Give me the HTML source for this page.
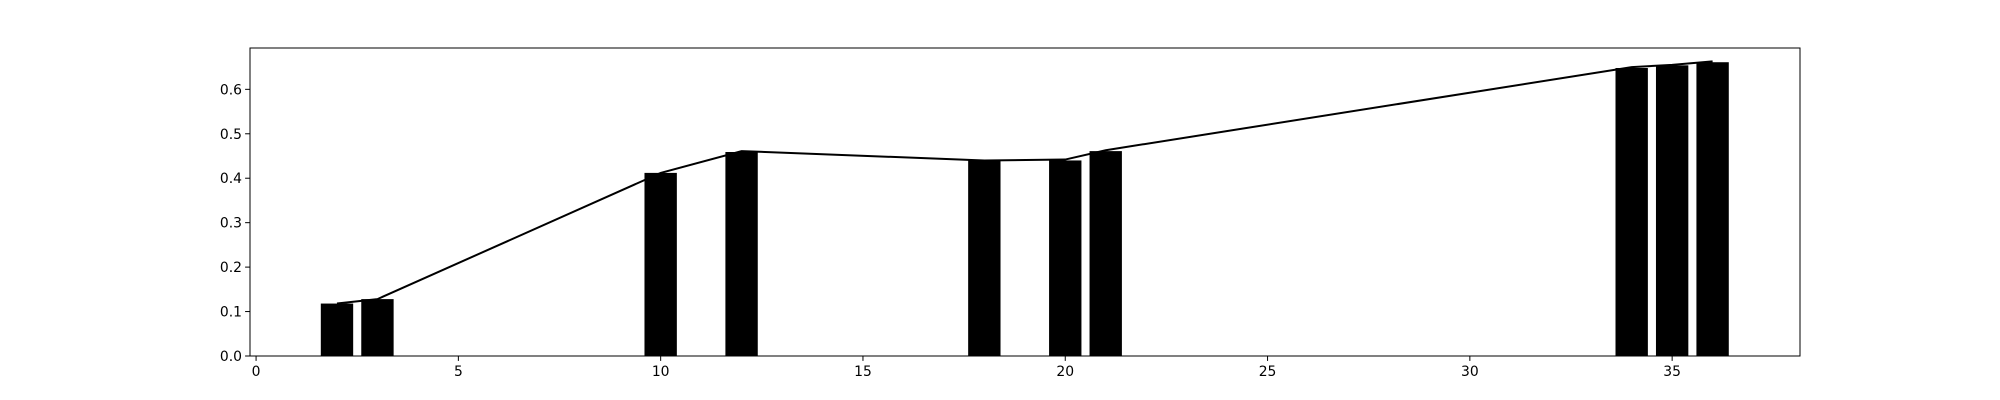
<!DOCTYPE html>
<html><head><meta charset="utf-8"><style>
html,body{margin:0;padding:0;background:#fff;}
svg{display:block;}
text{font-family:"DejaVu Sans","Liberation Sans",sans-serif;font-size:13.9px;fill:#000;}
</style></head><body>
<svg id="chart" width="2000" height="400" viewBox="0 0 2000 400" xmlns="http://www.w3.org/2000/svg">
<g id="bars"></g>
<g id="line"></g>
<g id="xaxis"></g>
<g id="yaxis"></g>
<rect x="250" y="48" width="1550" height="308" fill="none" stroke="#000" stroke-width="1"/>
</svg>
<script>
const categories = [2, 3, 10, 12, 18, 20, 21, 34, 35, 36];
const barValues = [0.118, 0.128, 0.412, 0.459, 0.44, 0.44, 0.461, 0.648, 0.654, 0.661];
const lineValues = [0.118, 0.128, 0.412, 0.461, 0.44, 0.442, 0.463, 0.65, 0.655, 0.663];
const xTicks = [0, 5, 10, 15, 20, 25, 30, 35];
const yTicks = [0.0, 0.1, 0.2, 0.3, 0.4, 0.5, 0.6];
const barWidth = 0.8;

const NS = "http://www.w3.org/2000/svg";
const xMin = -0.15, xMax = 38.16, yMin = 0, yMax = 0.693;
const L = 250, R = 1800, T = 48, B = 356;
function xs(v){ return L + (v - xMin) / (xMax - xMin) * (R - L); }
function ys(v){ return B - (v - yMin) / (yMax - yMin) * (B - T); }
function mk(tag, attrs, parent){ const e = document.createElementNS(NS, tag); for (const k in attrs) e.setAttribute(k, attrs[k]); parent.appendChild(e); return e; }

const gb = document.getElementById('bars');
categories.forEach((c, i) => {
  const x0 = xs(c - barWidth/2), x1 = xs(c + barWidth/2);
  const r = mk('rect', {x: x0, y: ys(barValues[i]), width: x1 - x0, height: B - ys(barValues[i]), fill: '#000'}, gb);
  
  
});
const gl = document.getElementById('line');
const pts = categories.map((c, i) => xs(c) + ',' + ys(lineValues[i])).join(' ');
const pl = mk('polyline', {points: pts, fill: 'none', stroke: '#000', 'stroke-width': 2}, gl);



const gx = document.getElementById('xaxis');
xTicks.forEach(t => {
  const x = xs(t);
  const tk = mk('line', {x1: x, x2: x, y1: B, y2: B + 4.9, stroke: '#000', 'stroke-width': 1}, gx);
  
  
  const tx = mk('text', {x: x, y: B + 20, 'text-anchor': 'middle'}, gx);
  tx.textContent = String(t);
  
  
});
const gy = document.getElementById('yaxis');
yTicks.forEach(t => {
  const y = ys(t);
  const tk = mk('line', {x1: L - 4.9, x2: L, y1: y, y2: y, stroke: '#000', 'stroke-width': 1}, gy);
  
  
  const tx = mk('text', {x: L - 8, y: y + 5, 'text-anchor': 'end'}, gy);
  tx.textContent = t.toFixed(1);
  
  
});
</script>
</body></html>
